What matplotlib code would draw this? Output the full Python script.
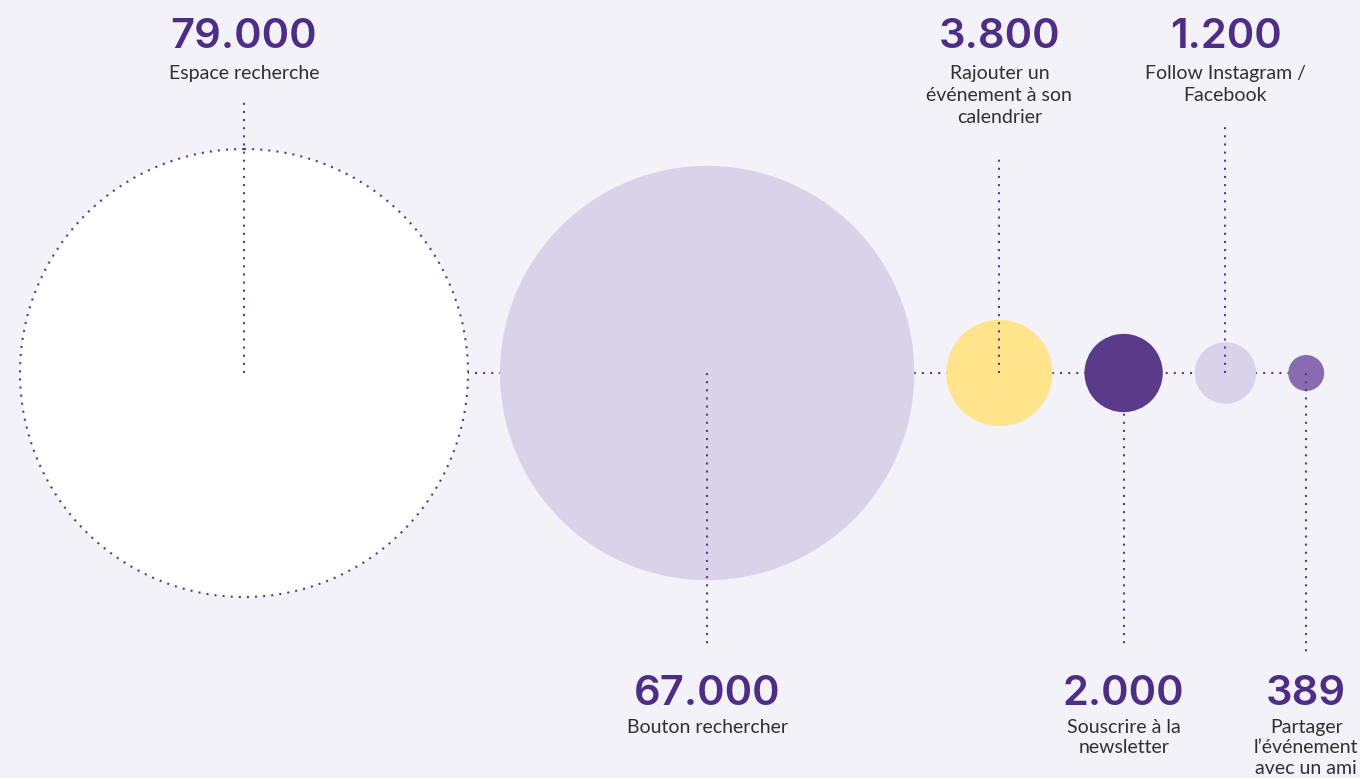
import numpy as np
import matplotlib
matplotlib.use("Agg")
import matplotlib.pyplot as plt
from matplotlib.patches import Circle

# ---- data ----
values = [79000, 67000, 3800, 2000, 1200, 389]
value_labels = ["79.000", "67.000", "3.800", "2.000", "1.200", "389"]
categories = ["Espace recherche", "Bouton rechercher",
              "Rajouter un\névénement à son\ncalendrier",
              "Souscrire à la\nnewsletter",
              "Follow Instagram /\nFacebook",
              "Partager\nl\u2019événement\navec un ami"]

# ---- style ----
bg = "#f3f2f8"
purple = "#4e2d86"
dot_col = "#5b3a8c"
fills = ["#ffffff", "#d8d3e8", "#ffe48b", "#5b3a8a", "#d8d3e8", "#8a6bb1"]
sides = ["top", "bottom", "top", "bottom", "top", "bottom"]
line_end = [100, 645, 158, 645, 123, 652]
W, H = 1360, 778
cy = 373
x_start, gap = 20, 32
r_max = 224
exponent = 0.4745

def radius(v):
    return r_max * (v / max(values)) ** exponent

fig = plt.figure(figsize=(W / 100, H / 100), dpi=100)
fig.patch.set_facecolor(bg)
ax = fig.add_axes([0, 0, 1, 1])
ax.set_facecolor(bg)
ax.set_xlim(0, W)
ax.set_ylim(H, 0)
ax.set_aspect("equal")
ax.axis("off")

radii = [radius(v) for v in values]
centers = []
x = x_start
for r in radii:
    centers.append(x + r)
    x += 2 * r + gap

dash = (0, (1.0, 2.9))
dots = dict(color=dot_col, linewidth=1.5, linestyle=dash, dash_capstyle="butt")

# horizontal connecting line (behind circles)
ax.plot([x_start, centers[-1] + radii[-1]], [cy, cy], zorder=1, **dots)

for i, (cx, r) in enumerate(zip(centers, radii)):
    ax.add_patch(Circle((cx, cy), r, facecolor=fills[i], edgecolor="none", zorder=2))
    if i == 0:
        c = Circle((cx, cy), r, facecolor="none", edgecolor=dot_col,
                   linewidth=1.5, linestyle=dash, zorder=3)
        c.set_capstyle("butt")
        ax.add_patch(c)
    ax.plot([cx, cx], [cy, line_end[i]], zorder=4, **dots)

    if sides[i] == "top":
        ny, ly, ls = 37, 65, 1.36
    else:
        ny, ly, ls = 694, 719, 1.24
    ax.text(cx, ny, value_labels[i], ha="center", va="center", fontsize=30,
            fontweight="semibold", color=purple, family="Inter")
    ax.text(cx, ly, categories[i], ha="center", va="top", fontsize=14,
            fontweight="normal", color="#303030", family="Lato", linespacing=ls)

fig.savefig("out.png", dpi=100, facecolor=bg)
